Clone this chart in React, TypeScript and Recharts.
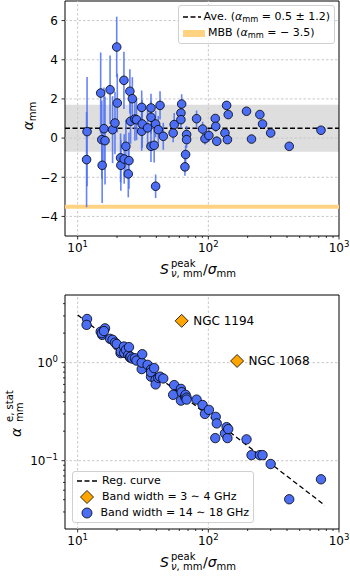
import React from "react";
import {
  ComposedChart,
  Scatter,
  XAxis,
  YAxis,
  ErrorBar,
  ReferenceLine,
  ReferenceArea,
  LabelList,
} from "recharts";

// S_peak / sigma_mm of each source, shared by both panels
const snr = [
  11.8, 11.7, 15.0, 15.4, 15.3, 16.2, 15.9, 17.7, 18.5, 19.3,
  20.1, 19.9, 21.3, 21.4, 22.6, 22.7, 23.4, 24.4, 24.7, 25.1,
  25.4, 26.2, 27.4, 28.2, 30.9, 30.9, 31.2, 34.3, 36.4, 36.4,
  36.4, 38.5, 39.5, 39.5, 41.4, 42.7, 45.2, 53.8, 54.8, 61.7,
  61.7, 62.5, 66.2, 67.0, 68.2, 68.2, 81.3, 90.4, 94.2, 101,
  113, 114, 116, 134, 138, 140, 142, 196, 214, 248,
  260, 300, 416, 728,
];
const alphaMm = [
  0.33, -1.1, 2.3, -1.39, -0.08, -0.13, 0.48, 2.47, 0.43, 0.77,
  1.79, 4.65, -1.01, -1.39, 2.95, -1.07, -0.42, -1.83, -1.15, 2.39,
  0.86, 2.01, 0.97, 0.94, 1.57, 0.35, 0.72, 0.52, 1.54, 1.06,
  -0.42, -0.37, 0.72, -2.46, 0.43, 1.67, 0.09, 0.26, 0.69, 1.28,
  0.94, 1.74, -1.47, -0.84, 0.18, -0.08, 0.99, 0.46, -0.03, 0.13,
  1.0, 0.6, -0.16, 0.26, 1.67, -0.08, 1.2, 1.37, -0.05, 1.2,
  0.72, 0.26, -0.42, 0.4,
];
const alphaErrStat = [
  2.79, 2.43, 2.07, 1.92, 2.0, 2.24, 2.1, 1.75, 1.71, 1.6,
  1.5, 1.55, 1.25, 1.3, 1.46, 1.26, 1.35, 1.2, 1.44, 1.13,
  1.15, 1.1, 1.11, 1.05, 0.86, 1.0, 1.22, 0.95, 0.72, 0.85,
  0.8, 0.88, 0.67, 0.6, 0.7, 0.72, 0.69, 0.47, 0.59, 0.54,
  0.41, 0.5, 0.45, 0.47, 0.44, 0.42, 0.42, 0.37, 0.3, 0.33,
  0.17, 0.28, 0.24, 0.19, 0.22, 0.17, 0.21, 0.165, 0.114, 0.114,
  0.114, 0.0925, 0.0404, 0.0646,
];

// 3~4 GHz sources
const ngcNames = ["NGC 1194", "NGC 1068"];
const ngcSnr = [62.5, 166];
const ngcErrStat = [2.67, 1.04];

// regression curve end points
const regSnr = [10, 780];
const regErrStat = [3.07, 0.035];

const aveAlpha = 0.5;
const aveStd = 1.2;
const mbbAlpha = -3.5;

const xMajorTicks = [10, 100, 1000];
const xMinorTicks = [20, 30, 40, 50, 60, 70, 80, 90, 200, 300, 400, 500, 600, 700, 800, 900];
const topYTicks = [-4, -2, 0, 2, 4, 6];
const botYMajorTicks = [0.1, 1];
const botYMinorTicks = [
  0.03, 0.04, 0.05, 0.06, 0.07, 0.08, 0.09,
  0.2, 0.3, 0.4, 0.5, 0.6, 0.7, 0.8, 0.9, 2, 3, 4,
];

const BLUE = "#4c6ef5";
const ORANGE = "#ffa500";
const GRID = "#c8c8c8";
const FONT = "'DejaVu Sans', sans-serif";

const topData = snr.map((x, i) => ({ x, y: alphaMm[i], e: alphaErrStat[i] }));
const botData = snr.map((x, i) => ({ x, y: alphaErrStat[i] }));
const ngcData = ngcSnr.map((x, i) => ({ x, y: ngcErrStat[i], name: ngcNames[i] }));
const regData = regSnr.map((x, i) => ({ x, y: regErrStat[i] }));

const xTicks = [...xMajorTicks, ...xMinorTicks].sort((a, b) => a - b);
const botYTicks = [...botYMajorTicks, ...botYMinorTicks].sort((a, b) => a - b);

const LogXTick = (props: any) => {
  const { x, y, payload } = props;
  const v = payload.value;
  const major = xMajorTicks.includes(v);
  return (
    <g>
      <line x1={x} x2={x} y1={y} y2={y + (major ? 3.5 : 2)} stroke="#000" strokeWidth={0.8} />
      {major && (
        <text x={x} y={y + 16} textAnchor="middle" fontSize={12} fill="#000">
          10<tspan dy={-5} fontSize={8.5}>{Math.round(Math.log10(v))}</tspan>
        </text>
      )}
    </g>
  );
};

const LinYTick = (props: any) => {
  const { x, y, payload } = props;
  const v = payload.value;
  const label = v < 0 ? "\u2212" + Math.abs(v) : String(v);
  return (
    <g>
      <line x1={x - 3.5} x2={x} y1={y} y2={y} stroke="#000" strokeWidth={0.8} />
      <text x={x - 7} y={y + 4.3} textAnchor="end" fontSize={12} fill="#000">
        {label}
      </text>
    </g>
  );
};

const LogYTick = (props: any) => {
  const { x, y, payload } = props;
  const v = payload.value;
  const major = botYMajorTicks.includes(v);
  const exp = Math.round(Math.log10(v));
  return (
    <g>
      <line x1={x - (major ? 3.5 : 2)} x2={x} y1={y} y2={y} stroke="#000" strokeWidth={0.8} />
      {major && (
        <text x={x - 7} y={y + 4.3} textAnchor="end" fontSize={12} fill="#000">
          10<tspan dy={-5} fontSize={8.5}>{exp < 0 ? "\u2212" + Math.abs(exp) : exp}</tspan>
        </text>
      )}
    </g>
  );
};

const Dot = (r: number) => (props: any) =>
  <circle cx={props.cx} cy={props.cy} r={r} fill={BLUE} stroke="#000" strokeWidth={0.8} />;

const Diamond = (props: any) => {
  const { cx, cy } = props;
  const h = 6.5;
  return (
    <polygon
      points={`${cx},${cy - h} ${cx + h},${cy} ${cx},${cy + h} ${cx - h},${cy}`}
      fill={ORANGE}
      stroke="#000"
      strokeWidth={0.8}
    />
  );
};

const Empty = () => <g />;

const Sub = ({ children }: { children: React.ReactNode }) => (
  <span style={{ fontSize: "0.75em", position: "relative", top: "0.3em" }}>{children}</span>
);

const legendBox: React.CSSProperties = {
  position: "absolute",
  boxSizing: "border-box",
  border: "1px solid #d0d0d0",
  borderRadius: 3,
  background: "rgba(255,255,255,0.85)",
  fontSize: 11,
  lineHeight: "16px",
  color: "#000",
  whiteSpace: "nowrap",
};

const row: React.CSSProperties = { display: "flex", alignItems: "center", height: 16 };

const DashSample = () => (
  <svg width={22} height={10} style={{ marginRight: 3 }}>
    <line x1={0} x2={22} y1={5} y2={5} stroke="#000" strokeWidth={1.5} strokeDasharray="5 2.5" />
  </svg>
);

const xLabel = (base: number) => (
  <g fontSize={14} fill="#000">
    <text x={160} y={base} fontStyle="italic">S</text>
    <text x={171} y={base - 7} fontSize={10}>peak</text>
    <text x={171} y={base + 3} fontSize={10}>
      <tspan fontStyle="italic">ν</tspan>, mm
    </text>
    <text x={203} y={base}>
      /<tspan fontStyle="italic">σ</tspan>
      <tspan fontSize={10} dy={3}>mm</tspan>
    </text>
  </g>
);

const xAxisProps = {
  type: "number" as const,
  dataKey: "x",
  scale: "log" as const,
  domain: [8, 1000],
  allowDataOverflow: true,
  ticks: xTicks,
  interval: 0 as const,
  tick: <LogXTick />,
  tickSize: 0,
  tickMargin: 0,
  tickLine: false,
  axisLine: false,
};

export default function App() {
  return (
    <div
      style={{
        position: "absolute",
        left: 0,
        top: 0,
        width: 350,
        height: 577,
        background: "#fff",
        fontFamily: FONT,
      }}
    >
      {/* top panel: alpha_mm */}
      <div style={{ position: "absolute", left: 0, top: 0 }}>
        <ComposedChart width={350} height={290} margin={{ top: 1, right: 11, bottom: 0, left: 0 }}>
          <XAxis {...xAxisProps} height={54} />
          <YAxis
            type="number"
            dataKey="y"
            domain={[-5, 7]}
            allowDataOverflow
            ticks={topYTicks}
            interval={0}
            tick={<LinYTick />}
            tickSize={0}
            tickMargin={0}
            tickLine={false}
            axisLine={false}
            width={65}
          />
          <ReferenceArea
            y1={aveAlpha - aveStd}
            y2={aveAlpha + aveStd}
            fill="#dedede"
            fillOpacity={1}
            stroke="none"
          />
          {xMajorTicks.slice(0, 2).map((v) => (
            <ReferenceLine key={"gx" + v} x={v} stroke={GRID} strokeDasharray="2.5 2" />
          ))}
          {topYTicks.map((v) => (
            <ReferenceLine key={"gy" + v} y={v} stroke={GRID} strokeDasharray="2.5 2" />
          ))}
          <ReferenceLine y={mbbAlpha} stroke="#ffd382" strokeWidth={4} />
          <ReferenceLine y={aveAlpha} stroke="#000" strokeWidth={1.5} strokeDasharray="5 2.5" />
          <Scatter data={topData} shape={Empty} isAnimationActive={false}>
            <ErrorBar dataKey="e" direction="y" width={0} stroke={BLUE} strokeWidth={1.6} strokeOpacity={0.85} />
          </Scatter>
          <Scatter data={topData} shape={Dot(4.3)} isAnimationActive={false} />
          <ReferenceArea x1={8} x2={1000} y1={-5} y2={7} fill="none" stroke="#000" strokeWidth={1} />
        </ComposedChart>
        <div style={{ ...legendBox, left: 178, top: 5, width: 157, height: 39, padding: "3px 4px" }}>
          <div style={row}>
            <DashSample />
            <span>
              Ave. (<i>α</i>
              <Sub>mm</Sub> = 0.5 ± 1.2)
            </span>
          </div>
          <div style={row}>
            <div style={{ width: 22, height: 7, background: "#ffd382", marginRight: 3 }} />
            <span>
              MBB (<i>α</i>
              <Sub>mm</Sub> = − 3.5)
            </span>
          </div>
        </div>
      </div>

      {/* bottom panel: statistical error of alpha_mm */}
      <div style={{ position: "absolute", left: 0, top: 290 }}>
        <ComposedChart width={350} height={287} margin={{ top: 5, right: 11, bottom: 0, left: 0 }}>
          <XAxis {...xAxisProps} height={48} />
          <YAxis
            type="number"
            dataKey="y"
            scale="log"
            domain={[0.0201, 4.9]}
            allowDataOverflow
            ticks={botYTicks}
            interval={0}
            tick={<LogYTick />}
            tickSize={0}
            tickMargin={0}
            tickLine={false}
            axisLine={false}
            width={65}
          />
          {xMajorTicks.slice(0, 2).map((v) => (
            <ReferenceLine key={"bx" + v} x={v} stroke={GRID} strokeDasharray="2.5 2" />
          ))}
          {botYMajorTicks.map((v) => (
            <ReferenceLine key={"by" + v} y={v} stroke={GRID} strokeDasharray="2.5 2" />
          ))}
          <Scatter
            data={regData}
            shape={Empty}
            line={{ stroke: "#000", strokeWidth: 1.3, strokeDasharray: "5 3" }}
            isAnimationActive={false}
          />
          <Scatter data={botData} shape={Dot(4.7)} isAnimationActive={false} />
          <Scatter data={ngcData} shape={Diamond} isAnimationActive={false}>
            <LabelList dataKey="name" position="right" offset={7} fontSize={12} fill="#000" />
          </Scatter>
          <ReferenceArea x1={8} x2={1000} y1={0.0201} y2={4.9} fill="none" stroke="#000" strokeWidth={1} />
        </ComposedChart>
        <div style={{ ...legendBox, left: 72, top: 181, width: 182, height: 52, padding: "1px 4px" }}>
          <div style={row}>
            <DashSample />
            <span>Reg. curve</span>
          </div>
          <div style={row}>
            <svg width={22} height={16} style={{ marginRight: 3 }}>
              <polygon points="10,1.5 16.5,8 10,14.5 3.5,8" fill={ORANGE} stroke="#000" strokeWidth={0.8} />
            </svg>
            <span>Band width = 3 ∼ 4 GHz</span>
          </div>
          <div style={row}>
            <svg width={22} height={16} style={{ marginRight: 3 }}>
              <circle cx={10} cy={8} r={5} fill={BLUE} stroke="#000" strokeWidth={0.8} />
            </svg>
            <span>Band width = 14 ∼ 18 GHz</span>
          </div>
        </div>
      </div>

      {/* axis titles */}
      <svg
        width={350}
        height={577}
        style={{ position: "absolute", left: 0, top: 0, pointerEvents: "none" }}
      >
        {xLabel(274)}
        {xLabel(567)}
        <g transform="translate(33,116) rotate(-90)">
          <text textAnchor="middle" fontSize={14} fill="#000">
            <tspan fontStyle="italic">α</tspan>
            <tspan fontSize={10} dy={3}>mm</tspan>
          </text>
        </g>
        <g transform="translate(21,412) rotate(-90)" fill="#000">
          <text x={-25} y={0} fontSize={14} fontStyle="italic">α</text>
          <text x={-10} y={-8} fontSize={10}>e, stat</text>
          <text x={-10} y={1.5} fontSize={10}>mm</text>
        </g>
      </svg>
    </div>
  );
}
